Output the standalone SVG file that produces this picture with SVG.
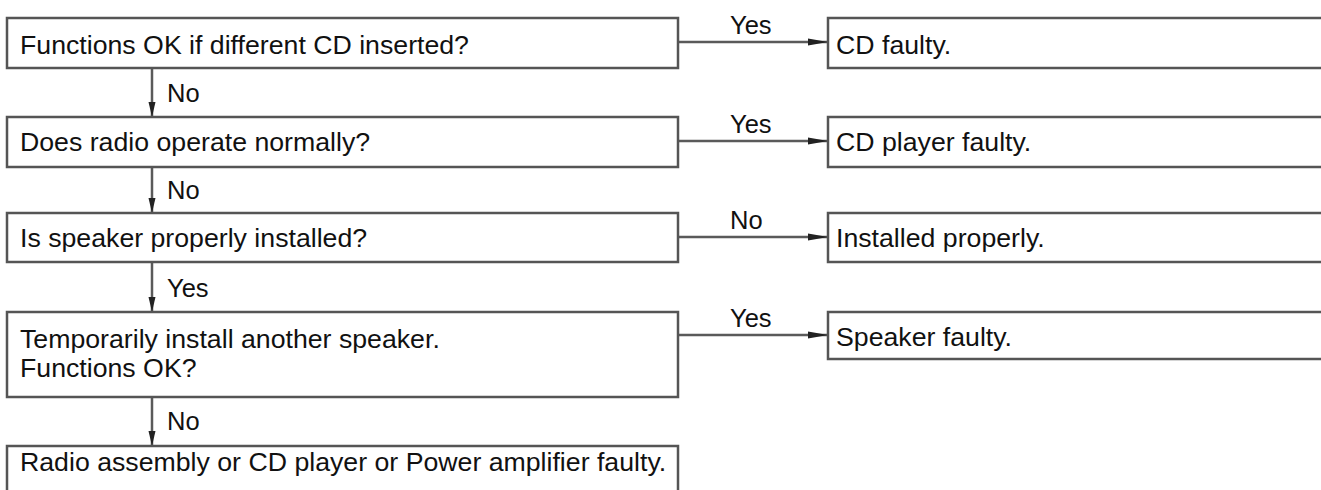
<svg xmlns="http://www.w3.org/2000/svg" width="1321" height="490" viewBox="0 0 1321 490">
  <style>
    .box { fill: #ffffff; stroke: #555555; stroke-width: 2.5; }
    .t { font-family: "Liberation Sans", Arial, sans-serif; font-size: 26.7px; fill: #111111; }
    .lbl { font-family: "Liberation Sans", Arial, sans-serif; font-size: 25.5px; fill: #111111; }
    .conn { fill: none; stroke: #5a5a5a; stroke-width: 2.5; }
  </style>
  <defs>
    <marker id="arrH" markerUnits="userSpaceOnUse" markerWidth="22" markerHeight="8" refX="20" refY="4" orient="auto">
      <path d="M0,0.5 L20,4 L0,7.5 z" fill="#222222"/>
    </marker>
    <marker id="arrV" markerUnits="userSpaceOnUse" markerWidth="16" markerHeight="8" refX="15" refY="4" orient="auto">
      <path d="M0,0.5 L15,4 L0,7.5 z" fill="#222222"/>
    </marker>
  </defs>
  <rect width="1321" height="490" fill="#ffffff"/>

  <g id="connectors">
    <line class="conn" x1="678" y1="42" x2="828" y2="42" marker-end="url(#arrH)"/>
    <line class="conn" x1="678" y1="141" x2="828" y2="141" marker-end="url(#arrH)"/>
    <line class="conn" x1="678" y1="237" x2="828" y2="237" marker-end="url(#arrH)"/>
    <line class="conn" x1="678" y1="335" x2="828" y2="335" marker-end="url(#arrH)"/>
    <line class="conn" x1="152" y1="68" x2="152" y2="117" marker-end="url(#arrV)"/>
    <line class="conn" x1="152" y1="167" x2="152" y2="213" marker-end="url(#arrV)"/>
    <line class="conn" x1="152" y1="262" x2="152" y2="312" marker-end="url(#arrV)"/>
    <line class="conn" x1="152" y1="397" x2="152" y2="446" marker-end="url(#arrV)"/>
    <text class="lbl" x="730" y="34">Yes</text>
    <text class="lbl" x="730" y="133">Yes</text>
    <text class="lbl" x="730" y="229">No</text>
    <text class="lbl" x="730" y="327">Yes</text>
    <text class="lbl" x="167" y="102">No</text>
    <text class="lbl" x="167" y="199">No</text>
    <text class="lbl" x="167" y="297">Yes</text>
    <text class="lbl" x="167" y="430">No</text>
  </g>

  <g id="q1">
    <rect class="box" x="7" y="18" width="671" height="50"/>
    <text class="t" x="20" y="54">Functions OK if different CD inserted?</text>
  </g>
  <g id="r1">
    <rect class="box" x="828" y="18" width="510" height="50"/>
    <text class="t" x="836" y="54">CD faulty.</text>
  </g>

  <g id="q2">
    <rect class="box" x="7" y="117" width="671" height="50"/>
    <text class="t" x="20" y="151">Does radio operate normally?</text>
  </g>
  <g id="r2">
    <rect class="box" x="828" y="117" width="510" height="50"/>
    <text class="t" x="836" y="151">CD player faulty.</text>
  </g>

  <g id="q3">
    <rect class="box" x="7" y="213" width="671" height="49"/>
    <text class="t" x="20" y="247">Is speaker properly installed?</text>
  </g>
  <g id="r3">
    <rect class="box" x="828" y="213" width="510" height="49"/>
    <text class="t" x="836" y="247">Installed properly.</text>
  </g>

  <g id="q4">
    <rect class="box" x="7" y="312" width="671" height="85"/>
    <text class="t" x="20" y="348">Temporarily install another speaker.</text>
    <text class="t" x="20" y="377">Functions OK?</text>
  </g>
  <g id="r4">
    <rect class="box" x="828" y="312" width="510" height="47"/>
    <text class="t" x="836" y="346">Speaker faulty.</text>
  </g>

  <g id="end">
    <rect class="box" x="7" y="446" width="671" height="60"/>
    <text class="t" x="20" y="471">Radio assembly or CD player or Power amplifier faulty.</text>
  </g>
</svg>
